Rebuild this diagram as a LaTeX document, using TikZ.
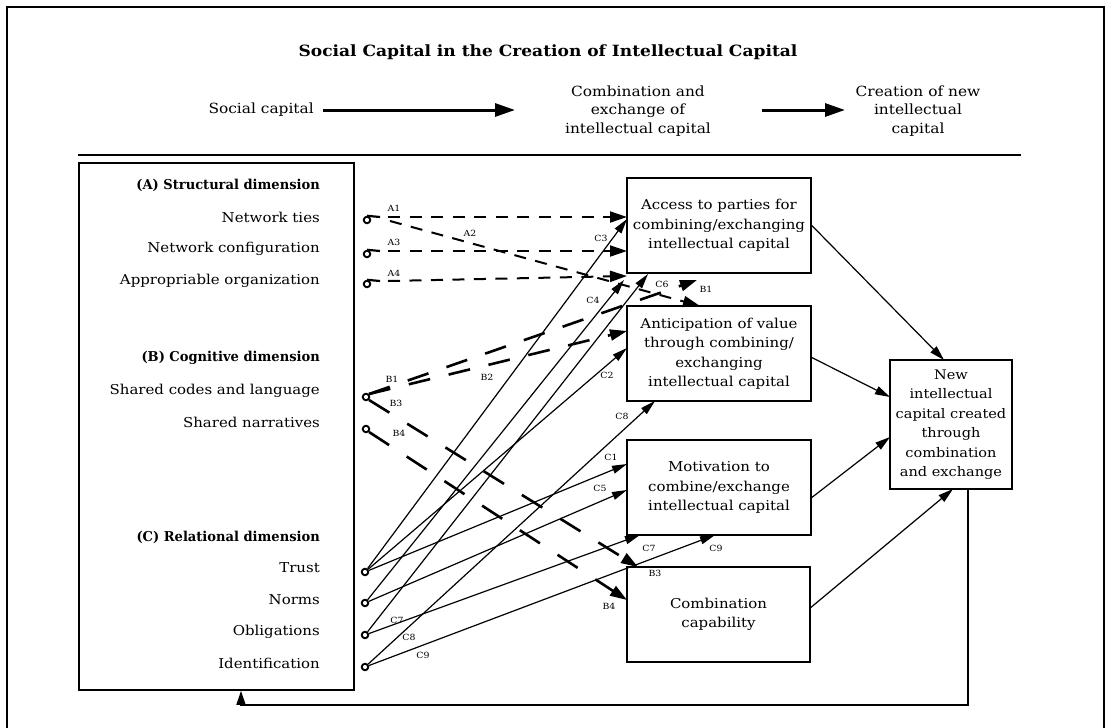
\documentclass[tikz,border=0pt]{standalone}
\usepackage{fontspec}
\setmainfont{DejaVu Serif}[FakeStretch=1.1]
\newfontfamily\headfont{DejaVu Serif}[FakeStretch=0.96]
\usetikzlibrary{arrows.meta,calc}
\begin{document}
\begin{tikzpicture}[x=1pt,y=-1pt,
  box/.style={draw,line width=1.6pt,minimum width=184pt,minimum height=95pt,
    align=center,inner sep=0pt,font=\fontsize{13.6}{19.5}\selectfont},
  item/.style={anchor=east,inner sep=0pt,font=\fontsize{13.6}{15}\selectfont},
  headitem/.style={anchor=east,inner sep=0pt,font=\headfont\fontsize{13.6}{15}\selectfont\bfseries},
  hdtext/.style={align=center,inner sep=0pt,font=\fontsize{14}{18.5}\selectfont},
  lab/.style={inner sep=0pt,font=\fontsize{8.5}{9}\selectfont},
  dot/.style={circle,draw,line width=1.9pt,minimum size=6.5pt,inner sep=0pt},
  dashA/.style={line width=2pt,dash pattern=on 12pt off 9.5pt,-{Triangle[length=17pt,width=11pt]}},
  dashB/.style={line width=2.6pt,dash pattern=on 22pt off 19pt,-{Triangle[length=17pt,width=11pt]}},
  dashBB/.style={line width=2.6pt,dash pattern=on 24pt off 21pt,-{Triangle[length=17pt,width=11pt]}},
  stub/.style={line width=2.2pt},
  link/.style={line width=1.2pt,-{Triangle[length=15pt,width=8pt]}},
  outlink/.style={line width=1.2pt,-{Triangle[length=15pt,width=8.5pt]}},
  hdarrow/.style={line width=3pt,-{Triangle[length=20pt,width=13pt]}},
]
\useasboundingbox (0,0) rectangle (1111,728);

% page frame
\draw[line width=1.5pt] (7,740) -- (7,7) -- (1104,7) -- (1104,740);

% title and header row
\node[inner sep=0pt,font=\fontsize{15.5}{18}\selectfont\bfseries] (title) at (548,52)
  {Social Capital in the Creation of Intellectual Capital};
\node[anchor=east,inner sep=0pt,font=\fontsize{14}{15}\selectfont] (hsc) at (314,110) {Social capital};
\node[hdtext] (hce) at (638,111) {Combination and\\exchange of\\intellectual capital};
\node[hdtext] (hnew) at (918,111) {Creation of new\\intellectual\\capital};
\coordinate (h1s) at (323,110);
\coordinate (h1e) at (515,110);
\coordinate (h2s) at (762,110);
\coordinate (h2e) at (845,110);
\draw[hdarrow] (h1s) -- (h1e);
\draw[hdarrow] (h2s) -- (h2e);
\draw[line width=2.5pt] (78,155) -- (1021,155);

% social capital dimensions
\node[draw,line width=1.6pt,minimum width=275pt,minimum height=527pt,inner sep=0pt] (soc) at (216.5,426.5) {};
\node[headitem] (hA) at (320,185) {(A) Structural dimension};
\node[item] (nt) at (320,217) {Network ties};
\node[item] (nc) at (320,249) {Network configuration};
\node[item] (ao) at (320,281) {Appropriable organization};
\node[headitem] (hB) at (320,358) {(B) Cognitive dimension};
\node[item] (sc) at (320,391) {Shared codes and language};
\node[item] (sn) at (320,422) {Shared narratives};
\node[headitem] (hC) at (320,537) {(C) Relational dimension};
\node[item] (tr) at (320,568) {Trust};
\node[item] (no) at (320,600) {Norms};
\node[item] (ob) at (320,632) {Obligations};
\node[item] (id) at (320,663) {Identification};

% intermediate and outcome boxes
\node[box] (acc) at (719,225.5) {Access to parties for\\combining/exchanging\\intellectual capital};
\node[box] (ant) at (719,353.5) {Anticipation of value\\through combining/\\exchanging\\intellectual capital};
\node[box] (mot) at (719,487.5) {Motivation to\\combine/exchange\\intellectual capital};
\node[box,minimum width=183pt] (comb) at (718.5,614.5) {Combination\\capability};
\node[box,minimum width=122pt,minimum height=129pt,font=\fontsize{13.2}{19.5}\selectfont] (new) at (951,424.5)
  {New\\intellectual\\capital created\\through\\combination\\and exchange};

% origin markers
\node[dot] (dNT) at (367,220) {};
\node[dot] (dNC) at (367,254) {};
\node[dot] (dAO) at (367,284) {};
\node[dot] (dSC) at (366,397) {};
\node[dot] (dSN) at (366,429) {};
\node[dot] (dTR) at (365,572) {};
\node[dot] (dNO) at (365,603) {};
\node[dot] (dOB) at (365,635) {};
\node[dot] (dID) at (365,667) {};

% structural links (A)
\coordinate (sA1) at (388,217);
\coordinate (sA2) at (390,221);
\coordinate (sA3) at (388,251);
\coordinate (sA4) at (388,281);
\coordinate (eNT) at (380,217);
\coordinate (eNC) at (380,251);
\coordinate (eAO) at (380,281);
\draw[stub] (dNT.north) -- (eNT);
\draw[stub] (dNC.north) -- (eNC);
\draw[stub] (dAO.north) -- (eAO);
\coordinate (tA1) at (627,217);
\coordinate (tA2) at (700,306);
\coordinate (tA3) at (627,251);
\coordinate (tA4) at (627,276);
\draw[dashA] (sA1) -- (tA1);
\draw[dashA] (sA2) -- (tA2);
\draw[dashA] (sA3) -- (tA3);
\draw[dashA] (sA4) -- (tA4);
\node[lab] (lA1) at (394,208) {A1};
\node[lab] (lA2) at (470,233) {A2};
\node[lab] (lA3) at (394,242) {A3};
\node[lab] (lA4) at (394,273) {A4};

% cognitive links (B)
\coordinate (tB1) at (697,280);
\coordinate (tB2) at (627,331);
\coordinate (tB3) at (638,567);
\coordinate (tB4) at (627,600);
\draw[dashB] (dSC.north east) -- (tB1);
\draw[dashB] (dSC.north east) -- (tB2);
\draw[dashBB] (dSC.south east) -- (tB3);
\draw[dashBB] (dSN.south east) -- (tB4);
\node[lab] (lB1a) at (392,379) {B1};
\node[lab] (lB1b) at (706,289) {B1};
\node[lab] (lB2) at (487,377) {B2};
\node[lab] (lB3a) at (396,403) {B3};
\node[lab] (lB3b) at (655,573) {B3};
\node[lab] (lB4a) at (399,433) {B4};
\node[lab] (lB4b) at (609,606) {B4};

% relational links (C)
\coordinate (tC1) at (627,464);
\coordinate (tC2) at (627,348);
\coordinate (tC3) at (627,219);
\coordinate (tC4) at (624,280);
\coordinate (tC5) at (627,490);
\coordinate (tC6) at (648,274);
\coordinate (tC7) at (640,535);
\coordinate (tC8) at (655,401);
\coordinate (tC9) at (715,535);
\draw[link] (dTR) -- (tC1);
\draw[link] (dTR) -- (tC2);
\draw[link] (dTR) -- (tC3);
\draw[link] (dNO) -- (tC4);
\draw[link] (dNO) -- (tC5);
\draw[link] (dOB) -- (tC6);
\draw[link] (dOB) -- (tC7);
\draw[link] (dID) -- (tC8);
\draw[link] (dID) -- (tC9);
\node[lab] (lC1) at (611,457) {C1};
\node[lab] (lC2) at (607,375) {C2};
\node[lab] (lC3) at (601,238) {C3};
\node[lab] (lC4) at (593,300) {C4};
\node[lab] (lC5) at (600,488) {C5};
\node[lab] (lC6) at (662,284) {C6};
\node[lab] (lC7b) at (649,548) {C7};
\node[lab] (lC8b) at (622,416) {C8};
\node[lab] (lC9b) at (716,548) {C9};
\node[lab] (lC7a) at (397,620) {C7};
\node[lab] (lC8a) at (409,637) {C8};
\node[lab] (lC9a) at (423,655) {C9};

% outcome links
\coordinate (nTop) at (944,360);
\coordinate (nL1) at (890,397);
\coordinate (nL2) at (890,437);
\coordinate (nBot) at (953,489);
\draw[outlink] (acc.east) -- (nTop);
\draw[outlink] ([yshift=-4pt]ant.east) -- (nL1);
\draw[outlink] ([yshift=-10pt]mot.east) -- (nL2);
\draw[outlink] ([yshift=7pt]comb.east) -- (nBot);

% feedback loop
\coordinate (fbR) at (968,705);
\coordinate (fbL) at (241,705);
\draw[line width=1.6pt,-{Triangle[length=14pt,width=9pt]}]
  (new.south -| fbR) -- (fbR) -- (fbL) -- (fbL |- soc.south);
\end{tikzpicture}
\end{document}
